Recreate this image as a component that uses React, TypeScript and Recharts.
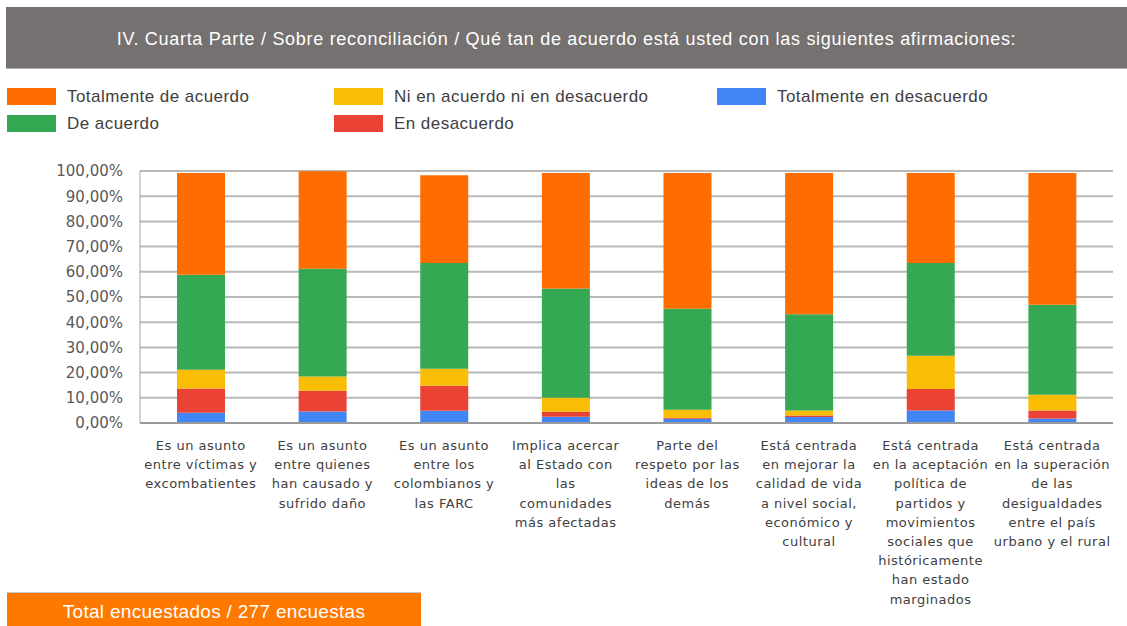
import { BarChart, Bar, XAxis, YAxis, CartesianGrid } from "recharts";

// statement labels, broken into lines as in the source slide
const categories = [
  "Es un asunto\nentre víctimas y\nexcombatientes",
  "Es un asunto\nentre quienes\nhan causado y\nsufrido daño",
  "Es un asunto\nentre los\ncolombianos y\nlas FARC",
  "Implica acercar\nal Estado con\nlas\ncomunidades\nmás afectadas",
  "Parte del\nrespeto por las\nideas de los\ndemás",
  "Está centrada\nen mejorar la\ncalidad de vida\na nivel social,\neconómico y\ncultural",
  "Está centrada\nen la aceptación\npolítica de\npartidos y\nmovimientos\nsociales que\nhistóricamente\nhan estado\nmarginados",
  "Está centrada\nen la superación\nde las\ndesigualdades\nentre el país\nurbano y el rural",
];

// percentages per answer (bottom -> top of the stack)
const totalmenteDesacuerdo = [4.1, 4.6, 4.9, 2.5, 1.7, 2.4, 5.0, 1.8];
const enDesacuerdo = [9.6, 8.2, 9.9, 2.0, 0.3, 0.6, 8.5, 3.2];
const niAcuerdoNiDesacuerdo = [7.4, 5.7, 6.7, 5.5, 3.3, 2.0, 13.2, 6.2];
const deAcuerdo = [37.7, 42.7, 42.0, 43.4, 40.0, 38.2, 36.8, 35.7];
const totalmenteAcuerdo = [40.4, 38.7, 34.8, 45.8, 53.9, 56.0, 35.7, 52.3];

const yTicks = [0, 10, 20, 30, 40, 50, 60, 70, 80, 90, 100];

const series = [
  { key: "td", name: "Totalmente en desacuerdo", color: "#4285F4", values: totalmenteDesacuerdo },
  { key: "ed", name: "En desacuerdo", color: "#EA4335", values: enDesacuerdo },
  { key: "ni", name: "Ni en acuerdo ni en desacuerdo", color: "#FBBC04", values: niAcuerdoNiDesacuerdo },
  { key: "da", name: "De acuerdo", color: "#34A853", values: deAcuerdo },
  { key: "ta", name: "Totalmente de acuerdo", color: "#FF6D01", values: totalmenteAcuerdo },
];

const data = categories.map((c, i) => {
  const row: Record<string, string | number> = { cat: c };
  series.forEach((s) => (row[s.key] = s.values[i]));
  return row;
});

// legend order as laid out in the picture (column by column)
const legendItems = [
  { name: "Totalmente de acuerdo", color: "#FF6D01", left: 7, top: 88 },
  { name: "De acuerdo", color: "#34A853", left: 7, top: 115 },
  { name: "Ni en acuerdo ni en desacuerdo", color: "#FBBC04", left: 334, top: 88 },
  { name: "En desacuerdo", color: "#EA4335", left: 334, top: 115 },
  { name: "Totalmente en desacuerdo", color: "#4285F4", left: 717, top: 88 },
];

const FONT = "'Liberation Sans', Arial, sans-serif";

function CategoryTick({ x, y, payload }: any) {
  const lines: string[] = String(payload.value).split("\n");
  return (
    <text
      x={x}
      y={y + 27}
      textAnchor="middle"
      fill="#404040"
      fontSize={13}
      letterSpacing={0.5}
      fontFamily="'DejaVu Sans', sans-serif"
    >
      {lines.map((l, i) => (
        <tspan key={i} x={x} dy={i === 0 ? 0 : 19.2}>
          {l}
        </tspan>
      ))}
    </text>
  );
}

export default function App() {
  return (
    <div
      style={{
        position: "absolute",
        left: 0,
        top: 0,
        width: 1127,
        height: 626,
        background: "#fff",
        overflow: "hidden",
        fontFamily: FONT,
      }}
    >
      {/* title band */}
      <div
        style={{
          position: "absolute",
          left: 6,
          top: 7,
          width: 1121,
          height: 62,
          background: "#757170",
          borderBottom: "1px solid #b0adac",
          color: "#fff",
          fontSize: 18,
          letterSpacing: 0.7,
          display: "flex",
          alignItems: "center",
          justifyContent: "center",
          paddingTop: 3,
          boxSizing: "border-box",
        }}
      >
        IV. Cuarta Parte / Sobre reconciliación / Qué tan de acuerdo está usted con las siguientes afirmaciones:
      </div>

      {legendItems.map((it) => (
        <div
          key={it.name}
          style={{
            position: "absolute",
            left: it.left,
            top: it.top,
            display: "flex",
            alignItems: "center",
            height: 17,
          }}
        >
          <div style={{ width: 49, height: 17, background: it.color }} />
          <span
            style={{
              marginLeft: 11,
              fontSize: 17,
              letterSpacing: 0.45,
              color: "#404040",
              whiteSpace: "nowrap",
            }}
          >
            {it.name}
          </span>
        </div>
      ))}

      <div style={{ position: "absolute", left: 0, top: 0 }}>
        <BarChart
          width={1127}
          height={626}
          data={data}
          margin={{ top: 171, right: 14, bottom: 0, left: 0 }}
          barSize={48}
        >
          <CartesianGrid vertical={false} stroke="#b8b8b8" strokeWidth={2} />
          <XAxis
            dataKey="cat"
            interval={0}
            height={203}
            tickLine={false}
            tickSize={0}
            tickMargin={0}
            axisLine={{ stroke: "#9a9a9a", strokeWidth: 2 }}
            tick={<CategoryTick />}
          />
          <YAxis
            width={140}
            domain={[0, 100]}
            ticks={yTicks}
            tickLine={false}
            tickSize={0}
            tickMargin={17}
            axisLine={{ stroke: "#a6a6a6", strokeWidth: 1 }}
            tick={{ fill: "#595959", fontSize: 15, fontFamily: "'DejaVu Sans', sans-serif" }}
            tickFormatter={(v: number) => `${v.toFixed(2).replace(".", ",")}%`}
          />
          {series.map((s) => (
            <Bar
              key={s.key}
              dataKey={s.key}
              name={s.name}
              stackId="a"
              fill={s.color}
              isAnimationActive={false}
            />
          ))}
        </BarChart>
      </div>

      {/* footer */}
      <div
        style={{
          position: "absolute",
          left: 7,
          top: 592,
          width: 414,
          height: 40,
          background: "#FF7800",
          borderTop: "1px solid #c8c8c8",
          color: "#fff",
          fontSize: 19,
          letterSpacing: 0.3,
          textAlign: "center",
          lineHeight: "38px",
        }}
      >
        Total encuestados / 277 encuestas
      </div>
    </div>
  );
}
